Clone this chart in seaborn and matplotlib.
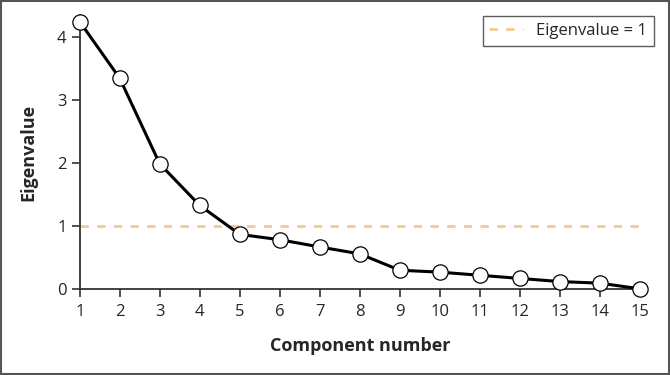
import numpy as np
import pandas as pd
import seaborn as sns
import matplotlib.pyplot as plt
from matplotlib.patches import Rectangle

components = list(range(1, 16))
eigenvalues = [4.25, 3.35, 1.99, 1.33, 0.87, 0.785, 0.67, 0.56, 0.30, 0.27, 0.22, 0.17, 0.12, 0.095, 0.005]
cutoff = 1

df = pd.DataFrame({'component': components, 'eigenvalue': eigenvalues})

sns.set_style('ticks')
plt.rcParams['font.family'] = ['Open Sans', 'DejaVu Sans']

fig = plt.figure(figsize=(6.7, 3.75), dpi=100)
ax = fig.add_axes([0.119, 0.229, 0.836, 0.73])

ax.plot([components[0], components[-1]], [cutoff, cutoff], color='#f5c992',
        linestyle=(0, (3, 3)), linewidth=2, label='Eigenvalue = 1', zorder=1)
sns.lineplot(data=df, x='component', y='eigenvalue', ax=ax, color='black',
             linewidth=2.2, marker='o', markersize=11, markerfacecolor='white',
             markeredgecolor='black', markeredgewidth=0.9, clip_on=False, zorder=3)

ax.set_xlim(1, 15)
ax.set_ylim(0, 4.35)
ax.set_xticks(components)
ax.set_yticks([0, 1, 2, 3, 4])
ax.tick_params(axis='both', labelsize=12, color='#333333', width=1.2, length=6)
ax.tick_params(axis='x', pad=5)
ax.set_xlabel('Component number', fontsize=13, fontweight='bold', labelpad=12)
ax.set_ylabel('Eigenvalue', fontsize=13, fontweight='bold', labelpad=14)
for s in ['left', 'bottom']:
    ax.spines[s].set_color('#333333')
    ax.spines[s].set_linewidth(1.3)
sns.despine(ax=ax)

leg = ax.legend(loc='upper right', bbox_to_anchor=(0.988, 0.979),
                bbox_transform=fig.transFigure, fontsize=12, frameon=True,
                fancybox=False, edgecolor='#333333', handlelength=2.0,
                borderpad=0.4)
leg.get_frame().set_linewidth(1)

fig.patches.append(Rectangle((0.002, 0.003), 0.996, 0.994, transform=fig.transFigure,
                             fill=False, edgecolor='#555555', linewidth=1.5))

fig.savefig('out.png', dpi=100)
